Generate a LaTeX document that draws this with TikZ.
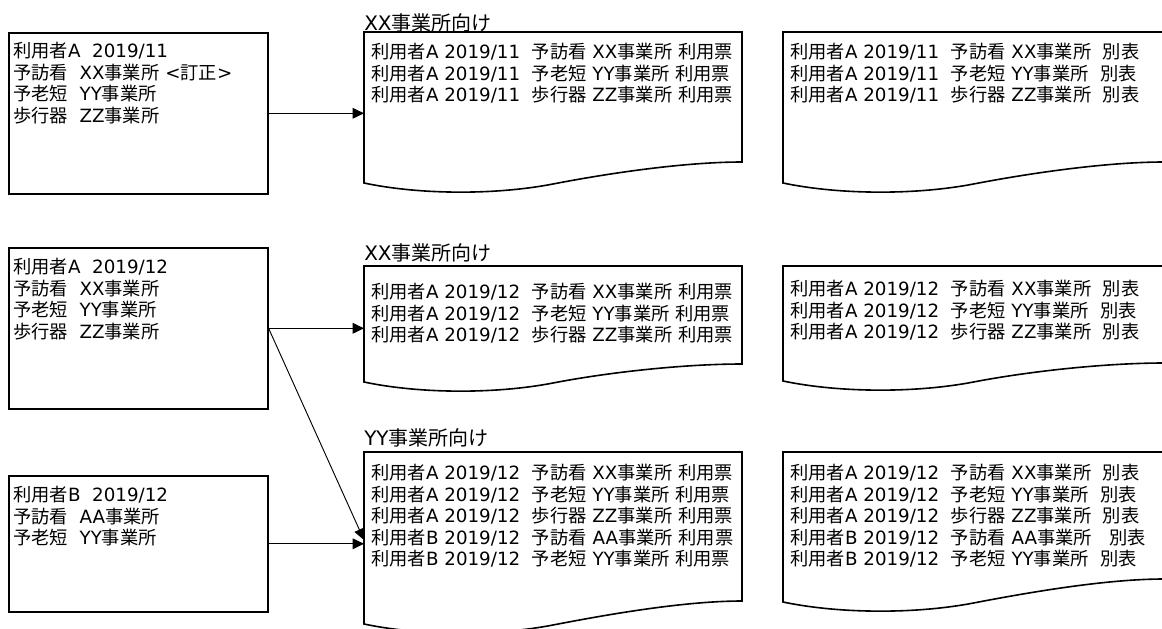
\documentclass[tikz,border=0pt]{standalone}
\usepackage{fontspec}
\setmainfont{DejaVu Sans}
\newfontfamily\jpfont{Noto Sans CJK JP}
\usetikzlibrary{arrows.meta}
% automatic switch to the Japanese font for CJK characters
\chardef\JPclass=11
\newcount\jpc
\def\setjprange#1#2{\jpc=#1\relax
  \loop\XeTeXcharclass\jpc=\JPclass\relax
  \ifnum\jpc<#2\relax\advance\jpc by 1\relax\repeat}
\setjprange{"3000}{"30FF}
\setjprange{"4E00}{"9FFF}
\setjprange{"FF00}{"FFEF}
\XeTeXinterchartokenstate=1
\XeTeXinterchartoks 0 \JPclass = {\begingroup\jpfont}
\XeTeXinterchartoks 4095 \JPclass = {\begingroup\jpfont}
\XeTeXinterchartoks \JPclass 0 = {\endgroup}
\XeTeXinterchartoks \JPclass 4095 = {\endgroup}
\newcommand\mydoc[5]{%
  \draw[docline] (#1,#4) -- (#1,#2) -- ({#1+#3},#2) -- ({#1+#3},#5)
    .. controls ({#1+0.85*#3},#5) and ({#1+0.65*#3},{#4-10}) .. ({#1+0.5*#3},{#4+1})
    .. controls ({#1+0.35*#3},{#4+12}) and ({#1+0.15*#3},{#4+12}) .. (#1,#4) -- cycle;}
\begin{document}
\begin{tikzpicture}[x=0.75pt,y=-0.75pt,
  box/.style={draw, line width=1.2pt, inner sep=0pt, anchor=north west, minimum width=194.25pt},
  docline/.style={line width=1.2pt, line join=miter},
  txt/.style={anchor=north west, inner sep=0pt, align=left, font=\fontsize{13.7pt}{16.1pt}\selectfont},
  ttl/.style={anchor=north west, inner sep=0pt, font=\fontsize{15pt}{18pt}\selectfont},
  arr/.style={line width=0.7pt, -{Triangle[length=8.5pt,width=8pt]}}]
\useasboundingbox (0,0) rectangle (1162,628);
\clip (0,0) rectangle (1162,628);

% source boxes
\node[box, minimum height=120.75pt] (b1) at (8,32) {};
\node[box, minimum height=120.75pt] (b2) at (8,247) {};
\node[box, minimum height=102pt] (b3) at (8,475) {};

\node[txt] (bt1) at (13,42) {利用者A\ \ 2019/11\\予訪看\ \ XX事業所 <訂正>\\予老短\ \ YY事業所\\歩行器\ \ ZZ事業所};
\node[txt] (bt2) at (13,258) {利用者A\ \ 2019/12\\予訪看\ \ XX事業所\\予老短\ \ YY事業所\\歩行器\ \ ZZ事業所};
\node[txt] (bt3) at (13,486) {利用者B\ \ 2019/12\\予訪看\ \ AA事業所\\予老短\ \ YY事業所};

% documents
\mydoc{364}{32}{378}{183}{162}
\mydoc{783}{32}{381}{183}{162}
\mydoc{364}{266}{378}{382}{364}
\mydoc{783}{266}{381}{381}{363}
\mydoc{364}{452}{378}{624}{601}
\mydoc{783}{452}{381}{602}{579}

\coordinate (d1) at (364,32);
\coordinate (d2) at (364,266);
\coordinate (d3) at (364,452);
\coordinate (d3in) at (364,540);

\node[ttl] (ti1) at (364,13) {XX事業所向け};
\node[ttl] (ti2) at (364,243) {XX事業所向け};
\node[ttl] (ti3) at (364,428) {YY事業所向け};

\node[txt] (dt1) at (371,43) {利用者A 2019/11\ \ 予訪看 XX事業所 利用票\\利用者A 2019/11\ \ 予老短 YY事業所 利用票\\利用者A 2019/11\ \ 歩行器 ZZ事業所 利用票};
\node[txt] (dt2) at (371,283) {利用者A 2019/12\ \ 予訪看 XX事業所 利用票\\利用者A 2019/12\ \ 予老短 YY事業所 利用票\\利用者A 2019/12\ \ 歩行器 ZZ事業所 利用票};
\node[txt] (dt3) at (371,464) {利用者A 2019/12\ \ 予訪看 XX事業所 利用票\\利用者A 2019/12\ \ 予老短 YY事業所 利用票\\利用者A 2019/12\ \ 歩行器 ZZ事業所 利用票\\利用者B 2019/12\ \ 予訪看 AA事業所 利用票\\利用者B 2019/12\ \ 予老短 YY事業所 利用票};

\node[txt] (rt1) at (790,43) {利用者A 2019/11\ \ 予訪看 XX事業所\ \ 別表\\利用者A 2019/11\ \ 予老短 YY事業所\ \ 別表\\利用者A 2019/11\ \ 歩行器 ZZ事業所\ \ 別表};
\node[txt] (rt2) at (790,280) {利用者A 2019/12\ \ 予訪看 XX事業所\ \ 別表\\利用者A 2019/12\ \ 予老短 YY事業所\ \ 別表\\利用者A 2019/12\ \ 歩行器 ZZ事業所\ \ 別表};
\node[txt] (rt3) at (790,464) {利用者A 2019/12\ \ 予訪看 XX事業所\ \ 別表\\利用者A 2019/12\ \ 予老短 YY事業所\ \ 別表\\利用者A 2019/12\ \ 歩行器 ZZ事業所\ \ 別表\\利用者B 2019/12\ \ 予訪看 AA事業所\ \ \ 別表\\利用者B 2019/12\ \ 予老短 YY事業所\ \ 別表};

% connectors
\draw[arr] (b1.east) -- (b1.east -| d1);
\draw[arr] (b2.east) -- (b2.east -| d2);
\draw[arr] (b2.east) -- (d3in);
\draw[arr] (b3.east) -- (b3.east -| d3);
\end{tikzpicture}
\end{document}
